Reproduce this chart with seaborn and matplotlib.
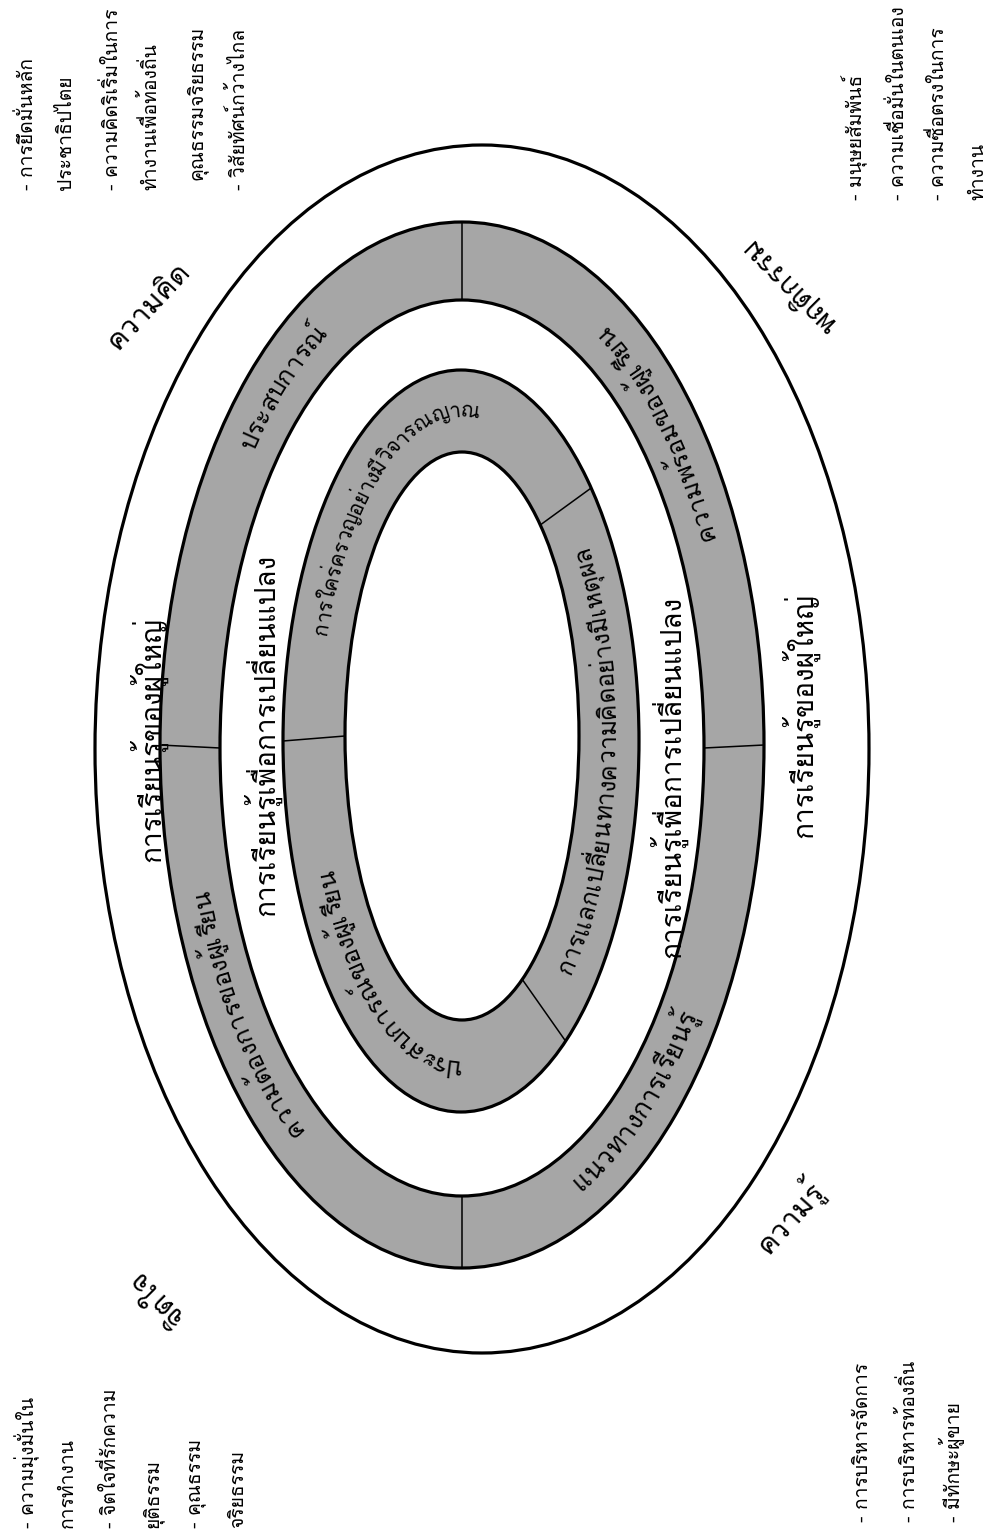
import numpy as np
import matplotlib
matplotlib.use("Agg")
import matplotlib.pyplot as plt
from matplotlib.patches import Ellipse
from matplotlib import font_manager
from matplotlib.ft2font import FT2Font
import seaborn as sns

# ---------------- data (texts) ----------------
outer_labels = ["ความคิด", "พฤติกรรม", "ความรู้", "จิตใจ"]
middle_ring_labels = ["ประสบการณ์", "ความพร้อมของผู้เรียน",
                      "แนวทางการเรียนรู้", "ความต้องการของผู้เรียน"]
band_labels = ["การเรียนรู้ของผู้ใหญ่", "การเรียนรู้เพื่อการเปลี่ยนแปลง"]
inner_ring_labels = ["การใคร่ครวญอย่างมีวิจารณญาณ",
                     "การแลกเปลี่ยนทางความคิดอย่างมีเหตุผล",
                     "ประสบการณ์ของผู้เรียน"]
list_thinking = ["- การยึดมั่นหลัก", "ประชาธิปไตย", "- ความคิดริเริ่มในการ",
                 "ทำงานเพื่อท้องถิ่น", "คุณธรรมจริยธรรม", "- วิสัยทัศน์กว้างไกล"]
list_behaviour = ["- มนุษยสัมพันธ์", "- ความเชื่อมั่นในตนเอง",
                  "- ความซื่อตรงในการ", "ทำงาน"]
list_mind = ["- ความมุ่งมั่นใน", "การทำงาน", "- จิตใจที่รักความ",
             "ยุติธรรม", "- คุณธรรม", "จริยธรรม"]
list_knowledge = ["- การบริหารจัดการ", "- การบริหารท้องถิ่น", "- มีทักษะผู้ขาย"]

# ---------------- font selection (Thai glyph coverage) ----------------
sns.set_theme(style="white")
thai_fonts = []
for f in font_manager.fontManager.ttflist:
    try:
        ft = FT2Font(f.fname)
        if 0x0E01 in ft.get_charmap() and f.name not in thai_fonts:
            thai_fonts.append(f.name)
    except Exception:
        pass
thai_font = None
for pref in ["Tahoma", "Loma", "Noto Sans Thai Looped", "Waree", "Garuda"]:
    if pref in thai_fonts:
        thai_font = pref
        break
if thai_font is None and thai_fonts:
    thai_font = thai_fonts[0]
families = ([thai_font] if thai_font else []) + ["DejaVu Sans"]
plt.rcParams["font.family"] = families

# ---------------- figure ----------------
W, H = 995, 1540
fig = plt.figure(figsize=(W / 100, H / 100), dpi=100)
ax = fig.add_axes([0, 0, 1, 1])
ax.set_xlim(0, W)
ax.set_ylim(H, 0)
ax.axis("off")
renderer = fig.canvas.get_renderer()


def text_w(s, size):
    if not s:
        return 0.0
    t = ax.text(0, 0, s, fontsize=size)
    w = t.get_window_extent(renderer).width
    t.remove()
    return w


def fit_size(s, target_px, base=20.0):
    return base * target_px / text_w(s, base)


GRAY = "#a6a6a6"
# (cx, cy, a, b, fill)
rings = [
    (482, 749, 387, 604, "white"),
    (462, 745, 302, 523, GRAY),
    (462, 748, 242, 448, "white"),
    (461, 741, 178, 371, GRAY),
    (462, 736, 117, 284, "white"),
]
for cx, cy, a, b, fc in rings:
    ax.add_patch(Ellipse((cx, cy), 2 * a, 2 * b, facecolor=fc,
                         edgecolor="black", linewidth=2.3, zorder=2))


def ell_pt(ring, deg):
    cx, cy, a, b = ring[:4]
    t = np.deg2rad(deg)
    return cx + a * np.cos(t), cy - b * np.sin(t)


for deg in [0, 90, 180, 270]:
    p1 = ell_pt(rings[1], deg)
    p2 = ell_pt(rings[2], deg)
    ax.plot([p1[0], p2[0]], [p1[1], p2[1]], color="black", lw=1.1, zorder=3)
for d_out, d_in in [(180, 180), (43, 48), (-54, -59)]:
    p1 = ell_pt(rings[3], d_out)
    p2 = ell_pt(rings[4], d_in)
    ax.plot([p1[0], p2[0]], [p1[1], p2[1]], color="black", lw=1.1, zorder=3)


def label(x, y, s, rot, size, **kw):
    ax.text(x, y, s, rotation=rot, rotation_mode="anchor", ha="center",
            va="center", fontsize=size, color="black", zorder=5, **kw)


# ---- text bent along an ellipse (ring centre line) ----
COMB = set([0x0E31] + list(range(0x0E34, 0x0E3B)) + list(range(0x0E47, 0x0E4F)))


def clusters(s):
    out = []
    for i, ch in enumerate(s):
        if out and ord(ch) in COMB:
            out[-1][1] = i + 1
        else:
            out.append([i, i + 1])
    return out


def curved_text(ell, t_c_deg, s, size, direction):
    cx, cy, a, b = ell
    tt = np.linspace(-2 * np.pi, 2 * np.pi, 40001)
    X = cx + a * np.cos(tt)
    Y = cy - b * np.sin(tt)
    S = np.concatenate([[0.0], np.cumsum(np.hypot(np.diff(X), np.diff(Y)))])
    s_c = np.interp(np.deg2rad(t_c_deg), tt, S)
    total = text_w(s, size)
    h = 0.27 * size * 100 / 72
    for i0, i1 in clusters(s):
        left = text_w(s[:i0], size)
        right = text_w(s[:i1], size)
        d = (left + right) / 2 - total / 2
        t = np.interp(s_c + direction * d, S, tt)
        px, py = cx + a * np.cos(t), cy - b * np.sin(t)
        ux, uy = direction * (-a * np.sin(t)), direction * (-b * np.cos(t))
        n = np.hypot(ux, uy)
        ux, uy = ux / n, uy / n
        rot = np.degrees(np.arctan2(-uy, ux))
        upx, upy = uy, -ux
        bx, by = px - upx * h, py - upy * h
        ax.text(bx, by, s[i0:i1], rotation=rot, rotation_mode="anchor",
                ha="center", va="baseline", fontsize=size, color="black",
                zorder=5)


mid_line = (462, 746, 272, 485.5)
inner_line = (461.5, 738.5, 147.5, 327.5)

fs_outer = fit_size(outer_labels[1], 122)
label(150, 307, outer_labels[0], 47, fs_outer)
label(790, 285, outer_labels[1], 135, fs_outer)
label(788, 1215, outer_labels[2], 48, fs_outer)
label(158, 1297, outer_labels[3], 135, fs_outer)

fs_mid = fit_size(middle_ring_labels[1], 240)
curved_text(mid_line, 132, middle_ring_labels[0], fs_mid, -1)
curved_text(mid_line, 41, middle_ring_labels[1], fs_mid, 1)
curved_text(mid_line, -48, middle_ring_labels[2], fs_mid * 1.04, 1)
curved_text(mid_line, 214, middle_ring_labels[3], fs_mid, -1)

fs_band = fit_size(band_labels[0], 245)
label(148, 740, band_labels[0], 90, fs_band)
label(800, 715, band_labels[0], 90, fs_band)
label(262, 735, band_labels[1], 90, fs_band)
label(668, 777, band_labels[1], 90, fs_band)

curved_text(inner_line, 131, inner_ring_labels[0],
            fit_size(inner_ring_labels[0], 300), -1)
curved_text(inner_line, -4, inner_ring_labels[1],
            fit_size(inner_ring_labels[1], 435), 1)
curved_text(inner_line, 230, inner_ring_labels[2],
            fit_size(inner_ring_labels[2], 255), -1)

fs_list = fit_size(list_thinking[0], 132)


def text_block(xs, y0s, lines, size):
    for x, y0, s in zip(xs, y0s, lines):
        ax.text(x, y0, s, rotation=90, rotation_mode="anchor", ha="left",
                va="center", fontsize=size, color="black", zorder=5)


text_block([27, 66, 112, 150, 197, 238], [190, 190, 190, 190, 180, 190], list_thinking, fs_list)
text_block([855, 898, 938, 978], [200, 200, 200, 200], list_behaviour, fs_list)
text_block([27, 68, 110, 152, 197, 238], [1528] * 6, list_mind, fs_list)
text_block([863, 908, 952], [1522] * 3, list_knowledge, fs_list)

fig.savefig("out.png", dpi=100, facecolor="white")
